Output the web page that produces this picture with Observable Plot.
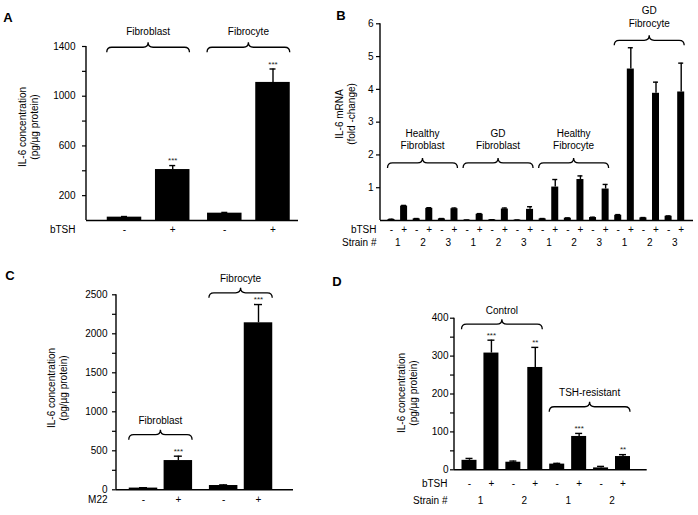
<!DOCTYPE html>
<html><head><meta charset="utf-8">
<script src="https://cdn.jsdelivr.net/npm/d3@7"></script>
<script src="https://cdn.jsdelivr.net/npm/@observablehq/plot@0.6"></script>
<style>
html,body{margin:0;padding:0;background:#fff;}
#fig{position:relative;width:698px;height:515px;overflow:hidden;background:#fff;}
#fig svg{position:absolute;}
</style></head><body><div id="fig"></div>
<script>
// ---------- Panel A ----------
const aGroup = ["Fibroblast","Fibroblast","Fibrocyte","Fibrocyte"];
const aTSH = ["-","+","-","+"];
const aMean = [27, 410, 59, 1111];
const aSem = [5, 32, 6, 108];
const aSig = ["", "***", "", "***"];
const aBraceAt = [1390, 1390];

// ---------- Panel B ----------
const bGroup = [
  "Healthy\nFibroblast","Healthy\nFibroblast","Healthy\nFibroblast","Healthy\nFibroblast","Healthy\nFibroblast","Healthy\nFibroblast",
  "GD\nFibroblast","GD\nFibroblast","GD\nFibroblast","GD\nFibroblast","GD\nFibroblast","GD\nFibroblast",
  "Healthy\nFibrocyte","Healthy\nFibrocyte","Healthy\nFibrocyte","Healthy\nFibrocyte","Healthy\nFibrocyte","Healthy\nFibrocyte",
  "GD\nFibrocyte","GD\nFibrocyte","GD\nFibrocyte","GD\nFibrocyte","GD\nFibrocyte","GD\nFibrocyte"];
const bTSH = ["-","+","-","+","-","+","-","+","-","+","-","+","-","+","-","+","-","+","-","+","-","+","-","+"];
const bStrain = ["1","2","3","1","2","3","1","2","3","1","2","3"];
const bMean = [0.03,0.44,0.05,0.37,0.05,0.36, 0.01,0.19,0.02,0.35,0.01,0.34, 0.05,1.02,0.07,1.25,0.09,0.96, 0.16,4.62,0.08,3.88,0.13,3.92];
const bSem  = [0.01,0.02,0.01,0.02,0.01,0.02, 0.005,0.02,0.005,0.03,0.005,0.08, 0.01,0.23,0.01,0.11,0.01,0.14, 0.02,0.65,0.01,0.34,0.01,0.88];
const bBraceAt = [1.74, 1.74, 1.74, 5.48];

// ---------- Panel C ----------
const cGroup = ["Fibroblast","Fibroblast","Fibrocyte","Fibrocyte"];
const cM22 = ["-","+","-","+"];
const cMean = [22, 375, 55, 2141];
const cSem = [5, 56, 8, 234];
const cSig = ["", "***", "", "***"];
const cBraceAt = [700, 2519];

// ---------- Panel D ----------
const dGroup = ["Control","Control","Control","Control","TSH-resistant","TSH-resistant","TSH-resistant","TSH-resistant"];
const dTSH = ["-","+","-","+","-","+","-","+"];
const dStrain = ["1","2","1","2"];
const dMean = [25, 308, 20, 270, 15, 88, 5, 35];
const dSem = [5, 34, 3, 53, 2, 8, 4, 5];
const dSig = ["", "***", "", "**", "", "***", "", "**"];
const dBraceAt = [383, 165];

const FONT = '"Liberation Sans", Arial, Helvetica, sans-serif';

function groupIndex(groups) {
  let g = -1, prev;
  return groups.map(v => (v !== prev ? (prev = v, ++g) : g));
}

function panel(o) {
  const gi = groupIndex(o.group);
  const data = o.mean.map((m, i) => ({i, pos: i + o.gap * gi[i], mean: m, top: m + o.sem[i], sig: o.sig ? o.sig[i] : ""}));
  const last = data[data.length - 1].pos;
  const k = (o.xRange[1] - o.xRange[0]) / last;
  const hw = o.barWidth / 2 / k, cap = o.capHalf / k;
  const marks = [];
  if (o.minor.length) marks.push(Plot.axisY({ticks: o.minor, tickSize: 4, tickFormat: () => "", strokeWidth: 1.2}));
  marks.push(Plot.axisY({ticks: o.ticks, tickSize: 4, tickPadding: o.tickPadding, tickFormat: d => String(d), label: null, strokeWidth: 1.2}));
  marks.push(
    Plot.rect(data, {x1: d => d.pos - hw, x2: d => d.pos + hw, y1: 0, y2: "mean", fill: "#000"}),
    Plot.ruleX(data, {x: "pos", y1: "mean", y2: "top", strokeWidth: 1.4}),
    Plot.ruleY(data, {y: "top", x1: d => d.pos - cap, x2: d => d.pos + cap, strokeWidth: 1.4}),
    Plot.ruleY([0], {strokeWidth: 1.4}),
    Plot.text(data.filter(d => d.sig), {x: "pos", y: "top", text: "sig", dy: -5, fontSize: 8, fill: "#222"})
  );
  o.rows.forEach(r => {
    const rd = r.pairs ? data.filter(d => d.i % 2 === 0) : data;
    marks.push(Plot.text(rd, {x: d => r.pairs ? d.pos + 0.5 : d.pos, text: d => r.pairs ? r.values[d.i / 2] : r.values[d.i], frameAnchor: "bottom", lineAnchor: "middle", dy: r.dy, fontSize: 10}));
    marks.push(Plot.text([r.label], {text: d => d, frameAnchor: "bottom-left", lineAnchor: "middle", textAnchor: "end", dx: o.rowLabelDx, dy: r.dy, fontSize: 10}));
  });
  const svg = Plot.plot({
    width: o.width, height: o.height,
    marginTop: o.marginTop, marginBottom: o.marginBottom, marginLeft: o.marginLeft, marginRight: o.marginRight,
    x: {type: "linear", domain: [0, last], range: o.xRange, axis: null},
    y: {domain: o.yDomain, axis: null},
    style: {fontFamily: FONT, fontSize: "10px", color: "#000", background: "transparent", overflow: "visible"},
    marks
  });
  const sx = svg.scale("x"), sy = svg.scale("y");
  const X = v => sx.apply(v), Y = v => sy.apply(v);
  const root = d3.select(svg);
  root.append("line")
    .attr("x1", o.marginLeft).attr("x2", o.marginLeft)
    .attr("y1", o.marginTop).attr("y2", o.height - o.marginBottom)
    .attr("stroke", "#000").attr("stroke-width", 1.4);
  const groups = [...new Set(o.group)];
  groups.forEach((g, j) => {
    const members = data.filter(d => o.group[d.i] === g);
    const x0 = X(members[0].pos - hw), x1 = X(members[members.length - 1].pos + hw);
    const xm = (x0 + x1) / 2, y = Y(o.braceAt[j]);
    const r = 5, up = 5, dn = 5;
    root.append("path")
      .attr("d", `M${x0},${y + dn} Q${x0},${y} ${x0 + r},${y} L${xm - r},${y} Q${xm},${y} ${xm},${y - up} Q${xm},${y} ${xm + r},${y} L${x1 - r},${y} Q${x1},${y} ${x1},${y + dn}`)
      .attr("fill", "none").attr("stroke", "#000").attr("stroke-width", 1.3);
    const lines = g.split("\n");
    const t = root.append("text").attr("text-anchor", "middle").attr("font-size", 10);
    lines.forEach((ln, li) => t.append("tspan").attr("x", xm)
      .attr("y", y - o.labelGap - (lines.length - 1 - li) * 12.5).attr("dy", "0.35em").text(ln));
  });
  root.append("text").attr("x", o.letterAt[0]).attr("y", o.letterAt[1]).attr("dy", "0.35em")
    .attr("text-anchor", "middle").attr("font-weight", "bold").attr("font-size", 13).text(o.letter);
  const tt = root.append("text").attr("transform", `translate(${o.titleAt[0]},${o.titleAt[1]}) rotate(-90)`)
    .attr("text-anchor", "middle").attr("font-size", 10);
  o.yTitle.forEach((ln, li) => tt.append("tspan").attr("x", 0)
    .attr("y", (li - (o.yTitle.length - 1) / 2) * 12).attr("dy", "0.35em").text(ln));
  svg.style.left = o.left + "px";
  svg.style.top = o.top + "px";
  document.getElementById("fig").appendChild(svg);
}

panel({
  left: 0, top: 0, width: 330, height: 260,
  marginTop: 46, marginBottom: 40, marginLeft: 86, marginRight: 32,
  group: aGroup, mean: aMean, sem: aSem, sig: aSig, braceAt: aBraceAt, gap: 0.08,
  xRange: [124, 272.5], barWidth: 34.5, capHalf: 3,
  yDomain: [0, 1400], ticks: [200, 600, 1000, 1400], minor: [400, 800, 1200], tickPadding: 7,
  rows: [{label: "bTSH", values: aTSH, dy: 9.5}], rowLabelDx: -11,
  letter: "A", letterAt: [8, 17], labelGap: 16,
  yTitle: ["IL-6 concentration", "(pg/µg protein)"], titleAt: [28.5, 127]
});

panel({
  left: 330, top: 0, width: 368, height: 260,
  marginTop: 23.3, marginBottom: 40, marginLeft: 50, marginRight: 5,
  group: bGroup, mean: bMean, sem: bSem, sig: null, braceAt: bBraceAt, gap: 0,
  xRange: [61, 350.7], barWidth: 7, capHalf: 2.5,
  yDomain: [0, 6], ticks: [1, 2, 3, 4, 5, 6], minor: [], tickPadding: 3,
  rows: [{label: "bTSH", values: bTSH, dy: 9}, {label: "Strain #", values: bStrain, dy: 22.7, pairs: true}], rowLabelDx: -4,
  letter: "B", letterAt: [11, 15], labelGap: 17,
  yTitle: ["IL-6 mRNA", "(fold -change)"], titleAt: [15.9, 114]
});

panel({
  left: 0, top: 260, width: 330, height: 255,
  marginTop: 34.3, marginBottom: 25.7, marginLeft: 116, marginRight: 37,
  group: cGroup, mean: cMean, sem: cSem, sig: cSig, braceAt: cBraceAt, gap: 0.3,
  xRange: [143, 258], barWidth: 28.5, capHalf: 4,
  yDomain: [0, 2500], ticks: [0, 500, 1000, 1500, 2000, 2500], minor: [250, 750, 1250, 1750, 2250], tickPadding: 5,
  rows: [{label: "M22", values: cM22, dy: 9.7}], rowLabelDx: -9,
  letter: "C", letterAt: [10, 15], labelGap: 14,
  yTitle: ["IL-6 concentration", "(pg/µg protein)"], titleAt: [57.5, 128]
});

panel({
  left: 330, top: 260, width: 368, height: 255,
  marginTop: 57.7, marginBottom: 45.7, marginLeft: 124, marginRight: 51.3,
  group: dGroup, mean: dMean, sem: dSem, sig: dSig, braceAt: dBraceAt, gap: 0,
  xRange: [139, 292.5], barWidth: 15, capHalf: 3.5,
  yDomain: [0, 400], ticks: [0, 100, 200, 300, 400], minor: [50, 150, 250, 350], tickPadding: 2,
  rows: [{label: "bTSH", values: dTSH, dy: 14}, {label: "Strain #", values: dStrain, dy: 30.7, pairs: true}], rowLabelDx: -7,
  letter: "D", letterAt: [7, 21], labelGap: 14,
  yTitle: ["IL-6 concentration", "(pg/µg protein)"], titleAt: [77.5, 133]
});
</script></body></html>
